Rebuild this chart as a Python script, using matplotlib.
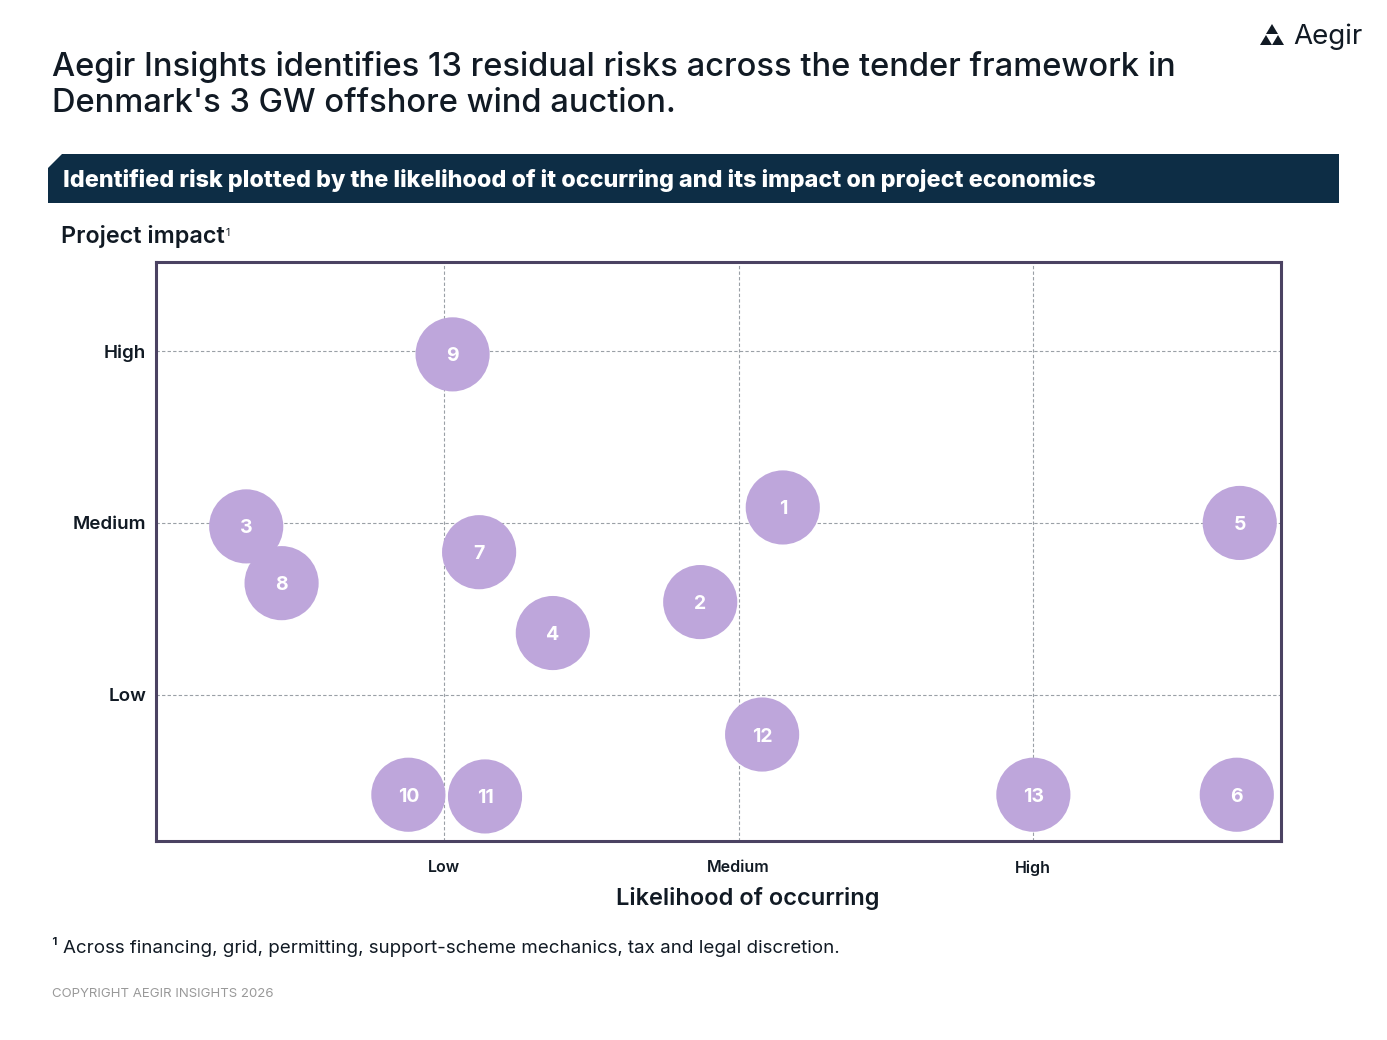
import matplotlib.pyplot as plt
from matplotlib.patches import Polygon

plt.rcParams['font.family'] = ['Inter', 'DejaVu Sans']

# risks: id, likelihood (1=Low, 2=Medium, 3=High), impact (1=Low, 2=Medium, 3=High)
risk_ids = ["1", "2", "3", "4", "5", "6", "7", "8", "9", "10", "11", "12", "13"]
likelihood = [2.15, 1.87, 0.33, 1.37, 3.70, 3.69, 1.12, 0.45, 1.03, 0.88, 1.14, 2.08, 3.00]
impact = [2.09, 1.54, 1.98, 1.36, 2.00, 0.42, 1.83, 1.65, 2.98, 0.42, 0.41, 0.77, 0.42]

level_ticks = [1, 2, 3]
x_labels = ["Low", "Medium", "High"]
y_labels = ["Low", "Medium", "High"]

NAVY = "#0d2d45"
TEXT = "#111a24"
BUBBLE = "#bea6db"
FRAME = "#4b4262"

fig = plt.figure(figsize=(13.87, 10.40), dpi=100)
W, H = 1387, 1040


def px(x, y):
    # pixel coords (top-left origin) -> figure fraction
    return x / W, 1 - y / H


# title
fig.text(*px(52, 85), "Aegir Insights identifies 13 residual risks across the tender framework in\n"
         "Denmark's 3 GW offshore wind auction.", fontsize=23.5, fontweight='medium',
         color=TEXT, va='center', ha='left', linespacing=1.2)

# logo
s = 6
for (cx, cy) in [(1272, 24), (1266, 35), (1278, 35)]:
    pts = [px(cx - s, cy + 10), px(cx, cy), px(cx + s, cy + 10)]
    fig.patches.append(Polygon(pts, closed=True, transform=fig.transFigure,
                               facecolor=TEXT, edgecolor='none'))
fig.text(*px(1293, 37), "Aegir", fontsize=20, color=TEXT, va='center', ha='left')

# header bar with chamfered corner
bar = [px(48, 203), px(48, 168), px(62, 154), px(1339, 154), px(1339, 203)]
fig.patches.append(Polygon(bar, closed=True, transform=fig.transFigure,
                           facecolor=NAVY, edgecolor='none'))
fig.text(*px(63, 181), "Identified risk plotted by the likelihood of it occurring and its impact on project economics",
         fontsize=16.8, fontweight='heavy', color='white', va='center', ha='left')

# y axis title with footnote mark
ylab = fig.text(*px(61, 236), "Project impact", fontsize=16.8, fontweight='semibold', color=TEXT,
                va='center', ha='left')
fig.canvas.draw()
bb = ylab.get_window_extent()
fig.text(bb.x1 / W + 1 / W, px(0, 233)[1], "1", fontsize=7.5, color=TEXT, va='center', ha='left')

ax = fig.add_axes([156 / W, 1 - 841 / H, (1281 - 156) / W, (841 - 262) / H])
ax.set_xlim(0.024, 3.84)
ax.set_ylim(0.151, 3.517)

ax.set_xticks(level_ticks)
ax.set_xticklabels(x_labels, fontsize=11.5, fontweight='semibold', color=TEXT)
ax.set_yticks(level_ticks)
ax.set_yticklabels(y_labels, fontsize=13.5, fontweight='semibold', color=TEXT)
ax.tick_params(length=0)
ax.tick_params(axis='x', pad=14)
ax.tick_params(axis='y', pad=7)
ax.grid(True, linestyle=(0, (3, 2)), color='#9aa0a6', linewidth=0.8)
ax.set_axisbelow(True)
for sp in ax.spines.values():
    sp.set_color(FRAME)
    sp.set_linewidth(2.2)

ax.scatter(likelihood, impact, s=2850, color=BUBBLE, edgecolors='none', zorder=3)
for rid, x, y in zip(risk_ids, likelihood, impact):
    ax.text(x, y, rid, color='white', fontsize=14, fontweight='bold',
            ha='center', va='center_baseline', zorder=4)

ax.set_xlabel("Likelihood of occurring", fontsize=17, fontweight='semibold', color=TEXT)
ax.xaxis.set_label_coords((748 - 156) / 1125, -(899 - 841) / 579, transform=ax.transAxes)
ax.xaxis.label.set_va('center')

fig.text(*px(52, 947), "\u00b9 Across financing, grid, permitting, support-scheme mechanics, tax and legal discretion.",
         fontsize=13.5, color=TEXT, va='center', ha='left')
fig.text(*px(52, 994), "COPYRIGHT AEGIR INSIGHTS 2026", fontsize=9.5, color='#999999',
         va='center', ha='left')

fig.savefig("out.png", dpi=100)
